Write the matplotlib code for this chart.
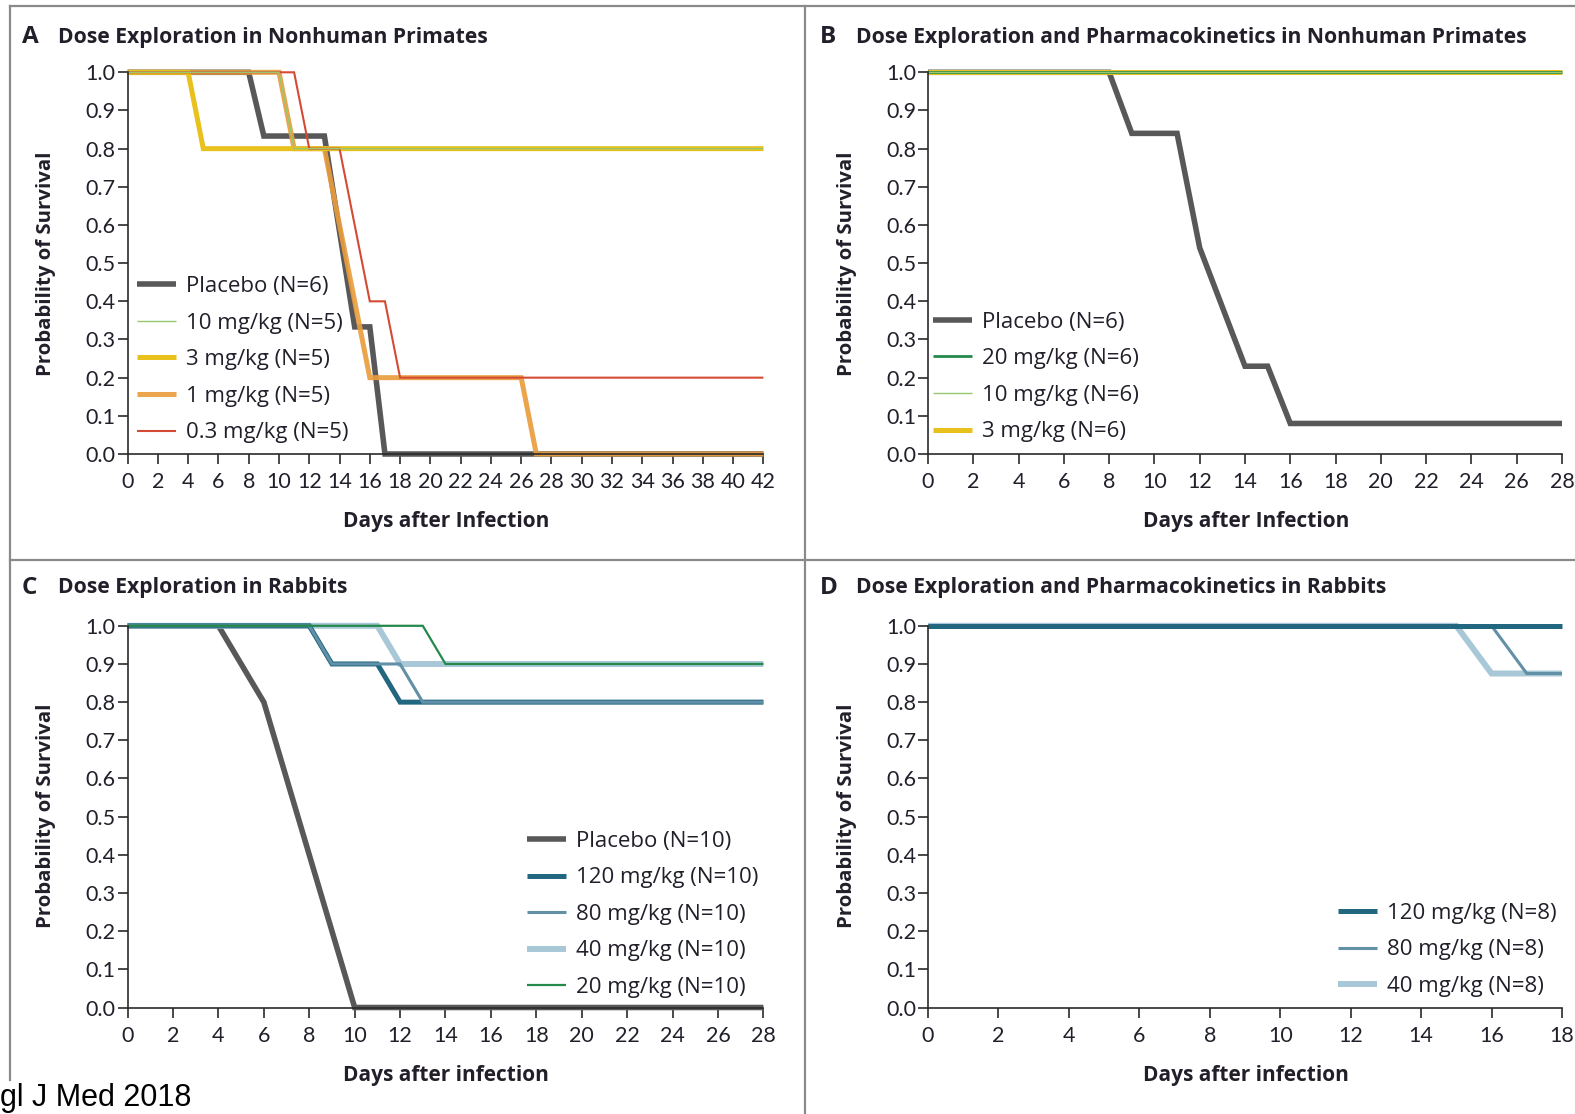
import matplotlib
matplotlib.use("Agg")
import matplotlib.pyplot as plt
from matplotlib.lines import Line2D

W, H = 1575, 1114

# ---- data ----
# Panel A: dose exploration in nonhuman primates (days 0-42)
a_placebo_days = [0, 8, 9, 13, 15, 16, 17, 42]
a_placebo_surv = [1.0, 1.0, 0.833, 0.833, 0.333, 0.333, 0.0, 0.0]
a_10mg_days = [0, 10, 11, 42]
a_10mg_surv = [1.0, 1.0, 0.8, 0.8]
a_3mg_days = [0, 4, 5, 42]
a_3mg_surv = [1.0, 1.0, 0.8, 0.8]
a_1mg_days = [0, 10, 11, 13, 16, 26, 27, 42]
a_1mg_surv = [1.0, 1.0, 0.8, 0.8, 0.2, 0.2, 0.0, 0.0]
a_03mg_days = [0, 11, 12, 14, 16, 17, 18, 42]
a_03mg_surv = [1.0, 1.0, 0.8, 0.8, 0.4, 0.4, 0.2, 0.2]

# Panel B: dose exploration and PK in nonhuman primates (days 0-28)
b_placebo_days = [0, 8, 9, 11, 12, 14, 15, 16, 28]
b_placebo_surv = [1.0, 1.0, 0.84, 0.84, 0.54, 0.23, 0.23, 0.08, 0.08]
b_20mg_days = [0, 28]
b_20mg_surv = [1.0, 1.0]
b_10mg_days = [0, 28]
b_10mg_surv = [1.0, 1.0]
b_3mg_days = [0, 28]
b_3mg_surv = [1.0, 1.0]

# Panel C: dose exploration in rabbits (days 0-28)
c_placebo_days = [0, 4, 6, 10, 28]
c_placebo_surv = [1.0, 1.0, 0.8, 0.0, 0.0]
c_120mg_days = [0, 8, 9, 11, 12, 28]
c_120mg_surv = [1.0, 1.0, 0.9, 0.9, 0.8, 0.8]
c_80mg_days = [0, 8, 9, 12, 13, 28]
c_80mg_surv = [1.0, 1.0, 0.9, 0.9, 0.8, 0.8]
c_40mg_days = [0, 11, 12, 28]
c_40mg_surv = [1.0, 1.0, 0.9, 0.9]
c_20mg_days = [0, 13, 14, 28]
c_20mg_surv = [1.0, 1.0, 0.9, 0.9]

# Panel D: dose exploration and PK in rabbits (days 0-18)
d_120mg_days = [0, 18]
d_120mg_surv = [1.0, 1.0]
d_80mg_days = [0, 16, 17, 18]
d_80mg_surv = [1.0, 1.0, 0.875, 0.875]
d_40mg_days = [0, 15, 16, 18]
d_40mg_surv = [1.0, 1.0, 0.875, 0.875]

# colours
GRAY = "#585858"
LGREEN = "#95c870"
YELLOW = "#e8c11c"
ORANGE = "#e99d3e"
RED = "#d34b33"
GREEN = "#24894b"
DTEAL = "#226780"
MTEAL = "#6190a7"
LBLUE = "#a8c8d8"
TXT = "#231f2a"

SANS = "Open Sans"
NUM = "Lato"

plt.rcParams["font.family"] = SANS
plt.rcParams["text.color"] = TXT

fig = plt.figure(figsize=(W / 100, H / 100), dpi=100)


def fx(x):
    return x / W


def fy(y):
    return 1 - y / H


def make_axes(left, right, top, bottom, xmax, xstep):
    ax = fig.add_axes([fx(left), fy(bottom), fx(right - left), (bottom - top) / H])
    ax.set_xlim(0, xmax)
    ax.set_ylim(0, 1)
    ax.set_xticks(range(0, xmax + 1, xstep))
    ax.set_yticks([i / 10 for i in range(11)])
    ax.set_yticklabels([f"{i / 10:.1f}" for i in range(11)])
    for s in ["top", "right"]:
        ax.spines[s].set_visible(False)
    for s in ["left", "bottom"]:
        ax.spines[s].set_linewidth(1.2)
        ax.spines[s].set_color("#2a2a2a")
    ax.tick_params(direction="out", length=7, width=1.2, color="#2a2a2a",
                   labelsize=15.5, labelcolor=TXT)
    ax.tick_params(axis="x", pad=6)
    ax.tick_params(axis="y", pad=1.5)
    for lab in ax.get_xticklabels() + ax.get_yticklabels():
        lab.set_fontfamily(NUM)
    ax.patch.set_alpha(0)
    return ax


def curve(ax, d, s, color, lw, label, alpha=1.0):
    ax.plot(d, s, color=color, lw=lw, label=label, clip_on=False,
            solid_joinstyle="miter", solid_capstyle="butt", alpha=alpha)


def legend(ax, x, y, order):
    h, l = ax.get_legend_handles_labels()
    lookup = dict(zip(l, h))
    ax.legend([lookup[k] for k in order], order, loc="upper left",
              bbox_to_anchor=(x, y), frameon=False, fontsize=16,
              handlelength=1.75, handletextpad=0.45, labelspacing=0.7,
              borderpad=0, borderaxespad=0)


# ---- panel A ----
axA = make_axes(127.6, 763.4, 72.3, 454, 42, 2)
curve(axA, a_placebo_days, a_placebo_surv, GRAY, 4.0, "Placebo (N=6)")
curve(axA, a_1mg_days, a_1mg_surv, ORANGE, 3.6, "1 mg/kg (N=5)", 0.92)
curve(axA, a_3mg_days, a_3mg_surv, YELLOW, 3.6, "3 mg/kg (N=5)")
curve(axA, a_03mg_days, a_03mg_surv, RED, 1.5, "0.3 mg/kg (N=5)")
curve(axA, a_10mg_days, a_10mg_surv, LGREEN, 1.0, "10 mg/kg (N=5)")
legend(axA, 0.015, 0.466, ["Placebo (N=6)", "10 mg/kg (N=5)", "3 mg/kg (N=5)",
                           "1 mg/kg (N=5)", "0.3 mg/kg (N=5)"])

# ---- panel B ----
axB = make_axes(928, 1562, 72.3, 454, 28, 2)
curve(axB, b_placebo_days, b_placebo_surv, GRAY, 4.0, "Placebo (N=6)")
curve(axB, b_3mg_days, b_3mg_surv, YELLOW, 3.6, "3 mg/kg (N=6)")
curve(axB, b_20mg_days, b_20mg_surv, GREEN, 2.0, "20 mg/kg (N=6)")
curve(axB, b_10mg_days, b_10mg_surv, LGREEN, 1.0, "10 mg/kg (N=6)")
legend(axB, 0.008, 0.373, ["Placebo (N=6)", "20 mg/kg (N=6)", "10 mg/kg (N=6)",
                           "3 mg/kg (N=6)"])

# ---- panel C ----
axC = make_axes(127.6, 763.4, 625.8, 1007.5, 28, 2)
curve(axC, c_placebo_days, c_placebo_surv, GRAY, 4.0, "Placebo (N=10)")
curve(axC, c_40mg_days, c_40mg_surv, LBLUE, 4.3, "40 mg/kg (N=10)")
curve(axC, c_120mg_days, c_120mg_surv, DTEAL, 3.6, "120 mg/kg (N=10)")
curve(axC, c_80mg_days, c_80mg_surv, MTEAL, 2.2, "80 mg/kg (N=10)")
curve(axC, c_20mg_days, c_20mg_surv, GREEN, 1.6, "20 mg/kg (N=10)")
legend(axC, 0.628, 0.463, ["Placebo (N=10)", "120 mg/kg (N=10)", "80 mg/kg (N=10)",
                           "40 mg/kg (N=10)", "20 mg/kg (N=10)"])

# ---- panel D ----
axD = make_axes(928, 1562, 625.8, 1007.5, 18, 2)
curve(axD, d_40mg_days, d_40mg_surv, LBLUE, 4.3, "40 mg/kg (N=8)")
curve(axD, d_80mg_days, d_80mg_surv, MTEAL, 2.2, "80 mg/kg (N=8)")
curve(axD, d_120mg_days, d_120mg_surv, DTEAL, 3.6, "120 mg/kg (N=8)")
legend(axD, 0.647, 0.274, ["120 mg/kg (N=8)", "80 mg/kg (N=8)", "40 mg/kg (N=8)"])

# ---- titles and axis labels ----
panels = [
    (22, 37, "A", "Dose Exploration in Nonhuman Primates"),
    (820, 37, "B", "Dose Exploration and Pharmacokinetics in Nonhuman Primates"),
    (22, 588, "C", "Dose Exploration in Rabbits"),
    (820, 588, "D", "Dose Exploration and Pharmacokinetics in Rabbits"),
]
for x, y, letter, title in panels:
    fig.text(fx(x), fy(y), letter, fontsize=17.5, fontweight="bold", va="center", ha="left")
    fig.text(fx(x + 36), fy(y), title, fontsize=15.2, fontweight="bold", va="center", ha="left")

xlabels = [(446, 521, "Days after Infection"), (1246, 521, "Days after Infection"),
           (446, 1075, "Days after infection"), (1246, 1075, "Days after infection")]
for x, y, t in xlabels:
    fig.text(fx(x), fy(y), t, fontsize=15, fontweight="bold", ha="center", va="center")

for x, y in [(46, 264), (847, 264), (46, 816), (847, 816)]:
    fig.text(fx(x), fy(y), "Probability of Survival", fontsize=14.7, fontweight="bold",
             rotation=90, ha="center", va="center")

# ---- panel frame ----
FRAME = "#8a8a8a"
for xs, ys in [([10, W], [6, 6]), ([10, 10], [6, 1080]), ([10, W], [560, 560]),
               ([805, 805], [6, H])]:
    fig.add_artist(Line2D([fx(v) for v in xs], [fy(v) for v in ys],
                          transform=fig.transFigure, color=FRAME, lw=1.6))

fig.text(fx(0), fy(1106), "gl J Med 2018", fontsize=22, family="Liberation Sans",
         color="black", ha="left", va="baseline")

fig.savefig("out.png", dpi=100)
